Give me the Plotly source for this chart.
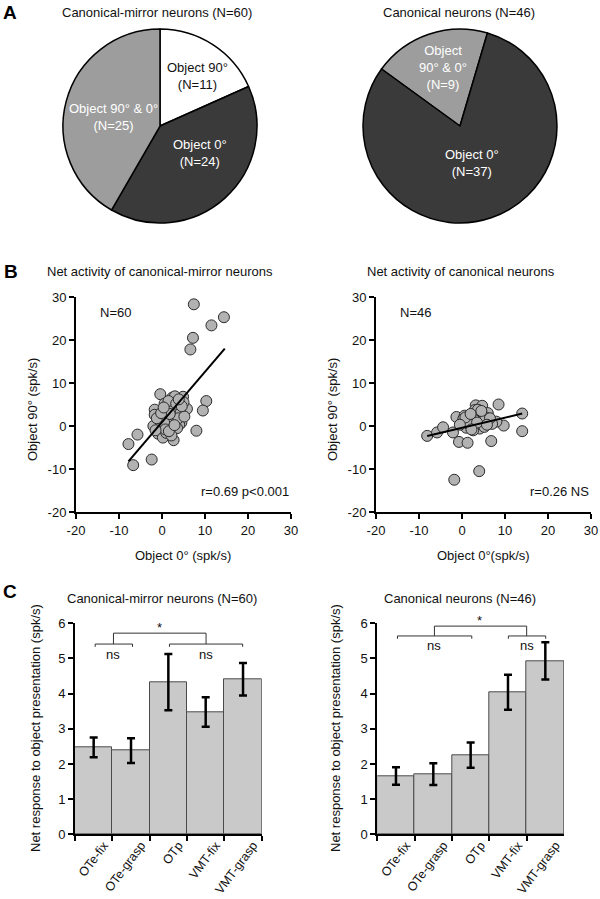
import plotly.graph_objects as go
import numpy as np

W, H = 600, 899
FONT = "Liberation Sans, Arial, sans-serif"
TXT = "#111"

# ---------------- DATA ----------------
# Panel A pies
pie_cm_labels = ["Object 90°", "Object 0°", "Object 90° & 0°"]
pie_cm_values = [11, 24, 25]
pie_c_labels = ["Object 90° & 0°", "Object 0°"]
pie_c_values = [9, 37]

# Panel B scatter: canonical-mirror (N=60)
cm_x = [7.4, 14.4, 11.5, 7.2, 6.6, 10.3, 9.5, 8.0, -5.7, -7.8, -6.7, -2.4,
        -0.4, 2.4, 4.9, 3.0, 0.6, 4.1, 5.8, -1.7, -1.7, 1.0, 3.5, 1.8, 4.5,
        -1.3, 0.2, 2.2, 4.0, -0.9, 0.2, 2.7, 1.0, -2.0, 3.1, 2.0, 0.0, 2.8,
        4.3, 5.0, 1.5, -0.5, 2.5, 3.5, 1.3, 3.8, 0.5, 5.2, -1.2, 1.8, 3.3,
        4.6, 0.8, -0.2, 2.2, 3.9, 0.4, 1.6, 2.9, -1.5]
cm_y = [28.3, 25.3, 23.4, 20.5, 17.8, 5.8, 3.6, -1.1, -2.0, -4.2, -9.1, -7.8,
        7.4, 6.6, 6.8, 6.9, 5.2, 5.6, 4.0, 3.8, 2.6, 3.4, 2.6, 1.2, 0.8,
        0.4, -0.2, -0.3, 0.3, -1.8, -2.7, -3.3, -1.6, 0.0, 4.2, 4.8, 2.0, 1.5,
        3.0, 5.5, 5.8, 1.2, -1.0, -0.5, 0.5, 1.8, 0.8, 2.2, 1.8, 2.8, 5.2,
        4.6, -0.8, 3.0, -2.2, 6.2, 4.3, -1.2, 0.2, -1.0]
cm_fit = dict(slope=1.17, intercept=0.9, x_min=-7.8, x_max=14.6)

# Panel B scatter: canonical (N=46)
c_x = [-8.1, -5.8, -4.4, -2.1, -1.3, -0.7, 1.3, -1.8, 4.0, 6.8, 8.5, 9.7,
       14.0, 14.0, 3.2, 4.7, 3.0, 4.1, 6.0, 0.6, 2.4, 0.2, 2.2, 4.9, 6.4,
       3.3, 1.8, 4.1, 8.0, 1.0, 2.6, 0.3, 5.5, 2.8, 3.7, 1.5, 5.2, 7.0,
       0.8, 2.0, 3.5, -0.5, 4.5, 6.5, 2.2, 5.8]
c_y = [-2.3, -1.5, -0.3, -1.5, 2.1, -3.7, -3.9, -12.5, -10.5, -3.5, 5.0, 0.1,
       2.9, -1.2, 4.8, 4.7, 3.7, 2.8, 3.0, 2.4, 2.0, 0.7, 1.0, 1.3, 1.0,
       -0.1, -0.3, -0.6, 1.0, -0.4, -1.0, 1.6, 2.0, 1.5, 3.8, 0.5, -0.2, 0.5,
       2.0, 2.8, 0.8, 0.3, 3.5, 1.8, -0.8, 0.3]
c_fit = dict(slope=0.235, intercept=-0.4, x_min=-8.1, x_max=14.0)

scatter_ticks = [-20, -10, 0, 10, 20, 30]
scatter_ticktext = ["-20", "-10", "0", "10", "20", "30"]

# Panel C bars
bar_categories = ["OTe-fix", "OTe-grasp", "OTp", "VMT-fix", "VMT-grasp"]
cm_bar_values = [2.47, 2.38, 4.33, 3.48, 4.41]
cm_bar_err = [0.28, 0.35, 0.80, 0.42, 0.46]
c_bar_values = [1.66, 1.71, 2.25, 4.04, 4.93]
c_bar_err = [0.25, 0.31, 0.36, 0.50, 0.53]
bar_ticks = [0, 1, 2, 3, 4, 5, 6]

# ---------------- helpers ----------------
def px(x):
    return x / W

def py(y):
    return 1 - y / H

fig = go.Figure()

# ---------------- Pies ----------------
DARK, GRAY, WHITE = "#3a3a3a", "#9d9d9d", "#ffffff"
fig.add_trace(go.Pie(
    labels=pie_cm_labels, values=pie_cm_values, sort=False,
    direction="clockwise", rotation=0,
    marker=dict(colors=[WHITE, DARK, GRAY], line=dict(color="black", width=1.5)),
    textinfo="none", hoverinfo="label+value",
    domain=dict(x=[px(63), px(257)], y=[py(223), py(29)]),
))
fig.add_trace(go.Pie(
    labels=pie_c_labels, values=pie_c_values, sort=False,
    direction="clockwise", rotation=-54,
    marker=dict(colors=[GRAY, DARK], line=dict(color="black", width=1.5)),
    textinfo="none", hoverinfo="label+value",
    domain=dict(x=[px(363), px(557)], y=[py(223), py(29)]),
))

# ---------------- Scatters ----------------
mk = dict(size=11, color="#b2b2b2", line=dict(color="#2a2a2a", width=1))
fig.add_trace(go.Scatter(x=cm_x, y=cm_y, mode="markers", marker=mk, xaxis="x", yaxis="y"))
fx = np.array([cm_fit["x_min"], cm_fit["x_max"]])
fig.add_trace(go.Scatter(x=fx, y=cm_fit["slope"] * fx + cm_fit["intercept"], mode="lines",
                         line=dict(color="black", width=2), xaxis="x", yaxis="y"))
fig.add_trace(go.Scatter(x=c_x, y=c_y, mode="markers", marker=mk, xaxis="x2", yaxis="y2"))
fx2 = np.array([c_fit["x_min"], c_fit["x_max"]])
fig.add_trace(go.Scatter(x=fx2, y=c_fit["slope"] * fx2 + c_fit["intercept"], mode="lines",
                         line=dict(color="black", width=2), xaxis="x2", yaxis="y2"))

# ---------------- Bars ----------------
bar_style = dict(marker=dict(color="#c9c9c9", line=dict(color="#4a4a4a", width=1)))
fig.add_trace(go.Bar(x=bar_categories, y=cm_bar_values,
                     error_y=dict(type="data", array=cm_bar_err, thickness=2.5, width=4, color="black"),
                     xaxis="x3", yaxis="y3", **bar_style))
fig.add_trace(go.Bar(x=bar_categories, y=c_bar_values,
                     error_y=dict(type="data", array=c_bar_err, thickness=2.5, width=4, color="black"),
                     xaxis="x4", yaxis="y4", **bar_style))

# ---------------- Axes ----------------
axis_common = dict(showline=True, linecolor="black", linewidth=2, ticks="outside",
                   ticklen=5, tickwidth=2, tickcolor="black", showgrid=False,
                   zeroline=False, automargin=False,
                   tickfont=dict(family=FONT, size=13, color=TXT))

def scat_ax(domain, anchor):
    return dict(domain=domain, anchor=anchor, range=[-20, 30], tickmode="array",
                tickvals=scatter_ticks, ticktext=scatter_ticktext, **axis_common)

sy = [py(512), py(297)]
by = [py(834.3), py(623.3)]

bar_x_common = dict(type="category", tickson="boundaries", tickangle=-53,
                    ticklabelshift=10, ticklabelstandoff=-3, **axis_common)
bar_x_common["tickfont"] = dict(family=FONT, size=12.5, color=TXT)

fig.update_layout(
    xaxis=scat_ax([px(76), px(291)], "y"),
    yaxis=scat_ax(sy, "x"),
    xaxis2=scat_ax([px(376), px(591)], "y2"),
    yaxis2=scat_ax(sy, "x2"),
    xaxis3=dict(domain=[px(75), px(261.7)], anchor="y3", **bar_x_common),
    yaxis3=dict(domain=by, anchor="x3", range=[0, 6], tickmode="array", tickvals=bar_ticks,
                **axis_common),
    xaxis4=dict(domain=[px(377.3), px(564)], anchor="y4", **bar_x_common),
    yaxis4=dict(domain=by, anchor="x4", range=[0, 6], tickmode="array", tickvals=bar_ticks,
                **axis_common),
    bargap=0,
)

# ---------------- Annotations ----------------
ann = []

def text(x, y, s, size=13, color=TXT, bold=False, xref="paper", yref="paper",
         xanchor="center", yanchor="middle", angle=0):
    ann.append(dict(x=x, y=y, xref=xref, yref=yref, text=("<b>%s</b>" % s) if bold else s,
                    showarrow=False, xanchor=xanchor, yanchor=yanchor, textangle=angle,
                    font=dict(family=FONT, size=size, color=color)))

# panel letters
text(px(10), py(12), "A", size=19, color="black", bold=True)
text(px(11), py(272), "B", size=19, color="black", bold=True)
text(px(10), py(591), "C", size=19, color="black", bold=True)

# titles
text(px(157), py(13), "Canonical-mirror neurons (N=60)")
text(px(459), py(13), "Canonical neurons (N=46)")
text(px(160), py(272), "Net activity of canonical-mirror neurons")
text(px(461), py(272), "Net activity of canonical neurons")
text(px(162), py(598), "Canonical-mirror neurons (N=60)")
text(px(460), py(598), "Canonical neurons (N=46)")

# pie labels
text(px(197), py(76), "Object 90°<br>(N=11)", color="#111")
text(px(200), py(153), "Object 0°<br>(N=24)", color="white")
text(px(113), py(117), "Object 90° & 0°<br>(N=25)", color="white")
text(px(443), py(67), "Object<br>90° & 0°<br>(N=9)", color="white")
text(px(472), py(163), "Object 0°<br>(N=37)", color="white")

# scatter axis titles
text(px(32), py(410), "Object 90° (spk/s)", angle=-90)
text(px(332), py(410), "Object 90° (spk/s)", angle=-90)
text(px(183), py(555), "Object 0° (spk/s)")
text(px(483), py(555), "Object 0°(spk/s)")

# scatter inner texts
text(-14.9, 26.3, "N=60", xref="x", yref="y", xanchor="left")
text(30, -15.3, "r=0.69 p<0.001", xref="x", yref="y", xanchor="right")
text(-14.9, 26.3, "N=46", xref="x2", yref="y2", xanchor="left")
text(30, -15.3, "r=0.26 NS", xref="x2", yref="y2", xanchor="right")

# bar y titles
text(px(35), py(728), "Net response to object presentation (spk/s)", angle=-90)
text(px(335), py(728), "Net response to object presentation (spk/s)", angle=-90)

# significance labels
text(1.77, 5.89, "*", xref="x3", yref="y3")
text(0.53, 5.12, "ns", xref="x3", yref="y3")
text(3.01, 5.12, "ns", xref="x3", yref="y3")
text(2.25, py(620.5), "*", xref="x4", yref="paper")
text(1.03, 5.36, "ns", xref="x4", yref="y4")
text(3.5, 5.36, "ns", xref="x4", yref="y4")

# significance brackets
shapes = []

def seg(x0, y0, x1, y1, xr, yr):
    shapes.append(dict(type="line", x0=x0, y0=y0, x1=x1, y1=y1, xref=xr, yref=yr,
                       line=dict(color="#333", width=1)))

def bracket(xa, xb, y, drop, xr, yr):
    seg(xa, y - drop, xa, y, xr, yr)
    seg(xa, y, xb, y, xr, yr)
    seg(xb, y, xb, y - drop, xr, yr)

# left chart
bracket(0.04, 1.04, 5.41, 0.08, "x3", "y3")
bracket(2.03, 3.99, 5.41, 0.08, "x3", "y3")
bracket(0.53, 3.01, 5.72, 0.31, "x3", "y3")
# right chart
bracket(0.04, 2.03, 5.64, 0.08, "x4", "y4")
bracket(3.01, 4.01, 5.64, 0.08, "x4", "y4")
bracket(1.03, 3.5, 5.92, 0.28, "x4", "y4")

fig.update_layout(
    annotations=ann, shapes=shapes,
    width=W, height=H, margin=dict(l=0, r=0, t=0, b=0),
    paper_bgcolor="white", plot_bgcolor="white", showlegend=False,
    font=dict(family=FONT, size=13, color=TXT),
)

fig.write_html("out.html", config={"displayModeBar": False},
               post_script="document.body.style.margin='0';document.body.style.overflow='hidden';")
